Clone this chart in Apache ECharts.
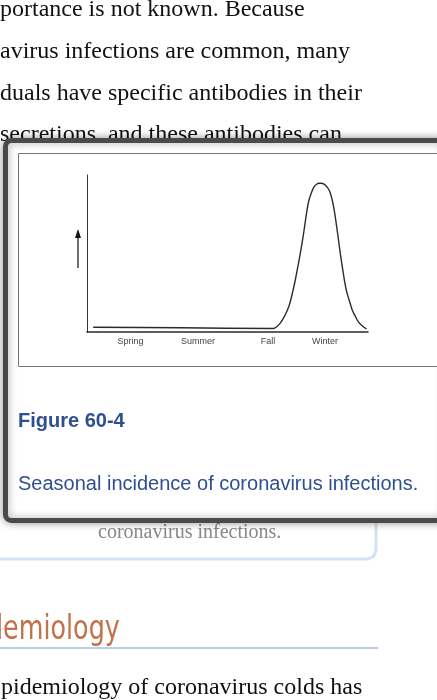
<!DOCTYPE html>
<html>
<head>
<meta charset="utf-8">
<script src="https://cdn.jsdelivr.net/npm/echarts@6.0.0/dist/echarts.min.js"></script>
<style>
  html, body { margin: 0; padding: 0; background: #fff; }
  #chart { width: 437px; height: 700px; }
</style>
</head>
<body>
<div id="chart"></div>
<script>
// seasons along the x axis (position in % of the year axis)
const seasonNames = ['Spring', 'Summer', 'Fall', 'Winter'];
const seasonTicks = [15.5, 39.5, 64.4, 84.7];

// traced curve: position along the year (0-100) and relative incidence (0-100)
const yearPos = [2.2, 33.1, 66.3, 67.4, 68.7, 69.6, 70.5, 71.4, 72.2, 73.1, 74.0, 74.9, 75.8, 77.0, 78.2, 79.0,
    80.0, 80.8, 81.7, 82.6, 83.3, 84.2, 85.1, 85.8, 86.5, 87.4, 88.3, 89.4, 90.1, 90.9, 91.6, 92.4, 93.4, 94.4,
    95.5, 96.5, 98.0, 99.5];
const incidence = [3.0, 2.7, 2.2, 3.2, 5.5, 7.9, 10.8, 14.3, 18.3, 24.8, 32.0, 40.4, 49.0, 61.8, 76.6, 84.1,
    89.4, 92.4, 94.1, 94.7, 94.7, 94.3, 93.0, 91.4, 89.0, 83.0, 74.0, 60.0, 50.5, 41.0, 33.1, 25.7, 19.7, 14.0,
    9.9, 6.6, 3.8, 1.9];

// page text around the popup
const pageLines = [
    'portance is not known. Because',
    'avirus infections are common, many',
    'duals have specific antibodies in their',
    'secretions, and these antibodies can'
];
const figureTitle = 'Figure 60-4';
const figureCaption = 'Seasonal incidence of coronavirus infections.';
const underCaption = 'coronavirus infections.';
const heading = 'demiology';
const bodyAfter = 'pidemiology of coronavirus colds has';

const chart = echarts.init(document.getElementById('chart'));

const serif = '"Liberation Serif", "DejaVu Serif", serif';
const sans = '"Liberation Sans", Arial, sans-serif';
const blue = '#2e4f93';

let graphics = [];
pageLines.forEach(function (t, i) {
    graphics.push({
        type: 'text', z: 1,
        style: { text: t, x: 0, y: 10 + i * 41.7, font: '24px ' + serif, fill: '#111', textVerticalAlign: 'middle' }
    });
});
graphics.push(
    // popup window
    {
        type: 'rect', z: 2,
        shape: { x: 5.5, y: 140.5, width: 440, height: 380, r: 6 },
        style: { fill: '#fff', stroke: '#4a4a4a', lineWidth: 5, shadowBlur: 8, shadowColor: 'rgba(0,0,0,0.35)' }
    },
    {
        type: 'rect', z: 3,
        shape: { x: 18.5, y: 153.5, width: 430, height: 213 },
        style: { fill: '#fff', stroke: '#777', lineWidth: 1 }
    },
    // up arrow beside the y axis
    {
        type: 'line', z: 4,
        shape: { x1: 78, y1: 268, x2: 78, y2: 236 },
        style: { stroke: '#111', lineWidth: 1.2 }
    },
    {
        type: 'polygon', z: 4,
        shape: { points: [[78, 229], [75, 238], [81, 238]] },
        style: { fill: '#111' }
    },
    {
        type: 'text', z: 4,
        style: { text: figureTitle, x: 18, y: 421.5, font: 'bold 20px ' + sans, fill: blue, textVerticalAlign: 'middle' }
    },
    {
        type: 'text', z: 4,
        style: { text: figureCaption, x: 18, y: 484, font: '20px ' + sans, fill: blue, textVerticalAlign: 'middle' }
    },
    // page below the popup
    {
        type: 'text', z: 1,
        style: { text: underCaption, x: 98, y: 533, font: '20px ' + serif, fill: '#888', textVerticalAlign: 'middle' }
    },
    {
        type: 'polyline', z: 1,
        shape: { points: [[0, 559], [368, 559], [374, 556], [376, 550], [376, 523]] },
        style: { stroke: '#d4e1f6', lineWidth: 3, fill: null }
    },
    {
        type: 'text', z: 1, x: -13, scaleX: 0.83,
        style: { text: heading, x: 0, y: 630, font: '34px "Liberation Sans Narrow", "DejaVu Sans Condensed", sans-serif', fill: '#c2714a', textVerticalAlign: 'middle' }
    },
    {
        type: 'line', z: 1,
        shape: { x1: 0, y1: 648, x2: 378, y2: 648 },
        style: { stroke: '#a7bddb', lineWidth: 1.5 }
    },
    {
        type: 'text', z: 1,
        style: { text: bodyAfter, x: 1, y: 688, font: '24px ' + serif, fill: '#111', textVerticalAlign: 'middle' }
    }
);

const option = {
    backgroundColor: '#fff',
    animation: false,
    grid: { left: 87, top: 175, width: 281, height: 157, outerBoundsMode: 'none' },
    xAxis: {
        type: 'value', min: 0, max: 100, z: 10,
        axisLine: { lineStyle: { color: '#2a2a2a', width: 1.6 } },
        axisTick: { show: false },
        splitLine: { show: false },
        axisLabel: {
            customValues: seasonTicks,
            margin: 5,
            color: '#444',
            fontSize: 9,
            fontFamily: 'Liberation Sans, Arial, sans-serif',
            formatter: function (v) { return seasonNames[seasonTicks.indexOf(v)] || ''; }
        }
    },
    yAxis: {
        type: 'value', min: 0, max: 100, z: 10,
        axisLine: { show: true, lineStyle: { color: '#333', width: 1 } },
        axisTick: { show: false },
        axisLabel: { show: false },
        splitLine: { show: false }
    },
    series: [{
        type: 'line', z: 12,
        data: yearPos.map(function (x, i) { return [x, incidence[i]]; }),
        smooth: 0.25,
        showSymbol: false,
        lineStyle: { color: '#2b2b2b', width: 1.4 }
    }],
    graphic: graphics
};
chart.setOption(option);
</script>
</body>
</html>
